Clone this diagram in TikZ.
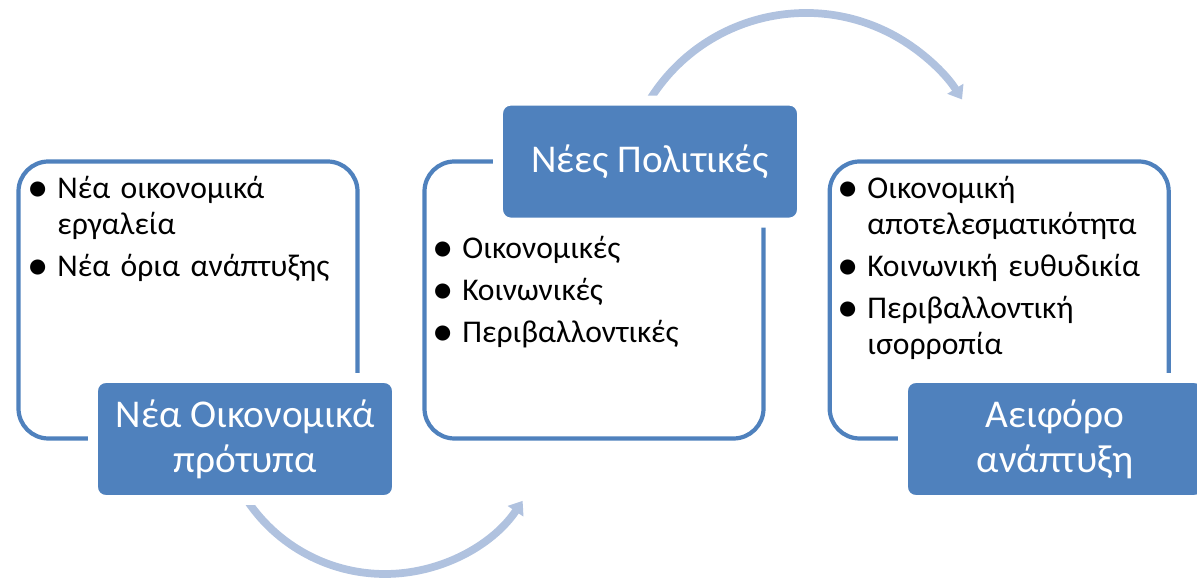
\documentclass[tikz,border=0pt]{standalone}
\usepackage{fontspec}
\setmainfont{Carlito}
\usepackage{graphicx}
\usepackage{enumitem}
\usepackage{xcolor}
\usetikzlibrary{arrows.meta}

\definecolor{accent}{HTML}{4F81BD}
\definecolor{accentlight}{HTML}{B0C2DF}
\newcommand{\dotmark}{\raisebox{-0.11em}{\scalebox{1.35}{\textbullet}}}

\begin{document}
\begin{tikzpicture}[
    frame/.style={draw=accent, line width=3pt, rounded corners=0.75cm, minimum width=8.475cm, minimum height=6.925cm},
    tag/.style={fill=accent, draw=white, line width=7pt, rounded corners=0.32cm, minimum width=7.6cm, minimum height=3.05cm, align=center, text=white, font=\fontsize{28}{32}\selectfont},
    items/.style={anchor=north west, inner sep=0pt, text width=7.9cm, align=left, font=\fontsize{22.5}{25.6}\selectfont},
    flowarc/.style={draw=accentlight, line width=5.5pt, -{Triangle[length=9pt,width=13pt]}}
]
    \useasboundingbox (0,0) rectangle (29.925,14.5);

    % The curved arrows behind the boxes
    \coordinate (lowhub) at (9.625,4.3);
    \coordinate (highhub) at (20.15,9.575);
    \draw[flowarc] (lowhub) ++(214:4.15) arc[start angle=214, end angle=326, radius=4.15];
    \draw[flowarc] (highhub) ++(148:4.6) arc[start angle=148, end angle=32, radius=4.6];

    % Outline boxes
    \node[frame] (models) at (4.7,7) {};
    \node[frame] (policies) at (14.85,7) {};
    \node[frame] (growth) at (24.98,7) {};

    % Bullet lists
    \node[items] (modelsitems) at (0.725,10.45) {%
        \begin{itemize}[label=\dotmark, leftmargin=20pt, labelsep=6pt, itemsep=4.3pt, topsep=0pt, parsep=0pt, partopsep=0pt]
        \item Νέα οικονομικά\newline εργαλεία
        \item Νέα όρια ανάπτυξης
        \end{itemize}};
    \node[items] (policiesitems) at (10.85,8.95) {%
        \begin{itemize}[label=\dotmark, leftmargin=20pt, labelsep=6pt, itemsep=4.3pt, topsep=0pt, parsep=0pt, partopsep=0pt]
        \item Οικονομικές
        \item Κοινωνικές
        \item Περιβαλλοντικές
        \end{itemize}};
    \node[items] (growthitems) at (20.975,10.45) {%
        \begin{itemize}[label=\dotmark, leftmargin=20pt, labelsep=6pt, itemsep=4.3pt, topsep=0pt, parsep=0pt, partopsep=0pt]
        \item Οικονομική\newline αποτελεσματικότητα
        \item Κοινωνική ευθυδικία
        \item Περιβαλλοντική\newline ισορροπία
        \end{itemize}};

    % Title tags on top
    \node[tag] (modelstag) at (6.125,3.525) {Νέα Οικονομικά\\πρότυπα};
    \node[tag] (policiestag) at (16.25,10.46) {Νέες Πολιτικές};
    \node[tag] (growthtag) at (26.375,3.525) {Αειφόρο\\ανάπτυξη};
\end{tikzpicture}
\end{document}
